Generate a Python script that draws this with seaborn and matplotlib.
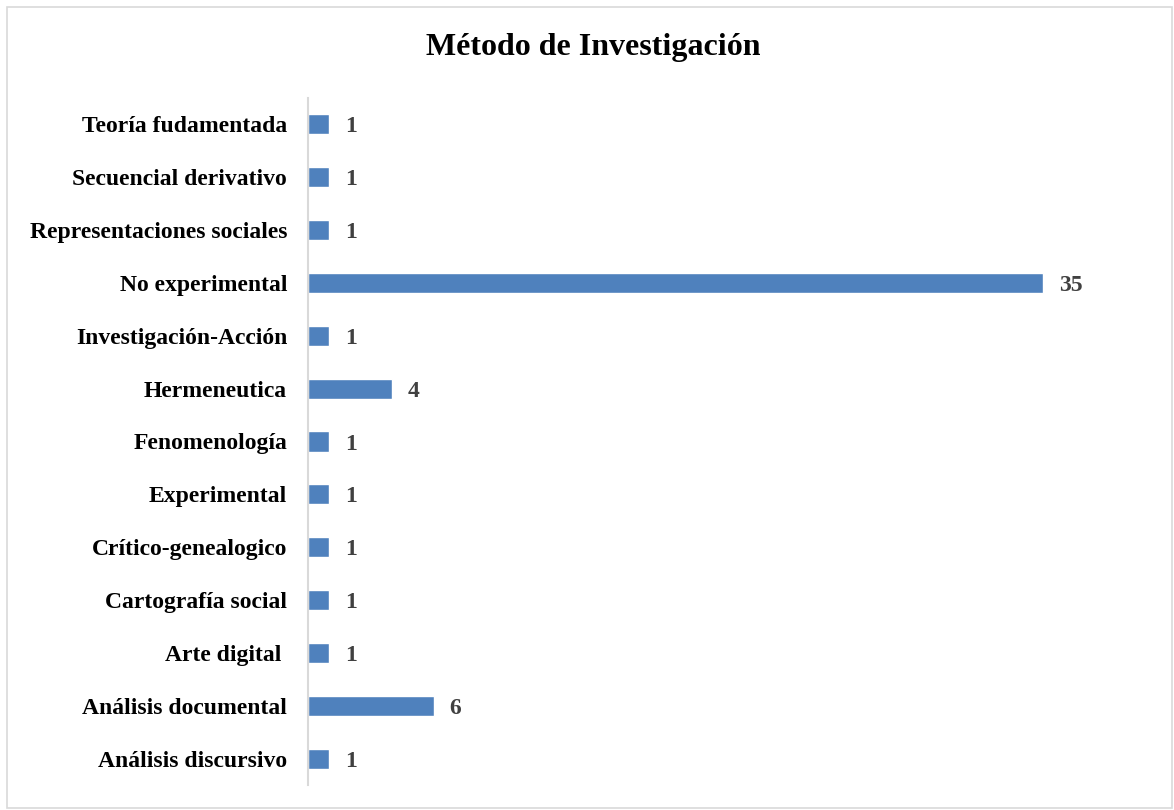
import matplotlib
matplotlib.use('Agg')
import matplotlib.pyplot as plt
import seaborn as sns
import pandas as pd
from matplotlib.patches import Rectangle

metodos = [
    'Teoría fudamentada',
    'Secuencial derivativo',
    'Representaciones sociales',
    'No experimental',
    'Investigación-Acción',
    'Hermeneutica',
    'Fenomenología',
    'Experimental',
    'Crítico-genealogico',
    'Cartografía social',
    'Arte digital ',
    'Análisis documental',
    'Análisis discursivo',
]
cantidad = [1, 1, 1, 35, 1, 4, 1, 1, 1, 1, 1, 6, 1]

df = pd.DataFrame({'metodo': metodos, 'cantidad': cantidad})

sns.set_theme(style='white')
plt.rcParams['font.family'] = ['Liberation Serif', 'DejaVu Serif']

fig = plt.figure(figsize=(11.74, 8.10), dpi=100)
ax = fig.add_axes([308 / 1174, 25 / 810, 840 / 1174, 687 / 810])

sns.barplot(data=df, x='cantidad', y='metodo', orient='h', color='#4f81bd',
            saturation=1, width=0.38, ax=ax)

for i, v in enumerate(cantidad):
    ax.text(v + 0.75, i, str(v), va='center_baseline', ha='left', fontsize=17,
            fontweight='bold', color='#404040')

ax.set_xlim(0, 40)
ax.set_ylim(len(metodos) - 0.5, -0.5)
ax.set_xlabel('')
ax.set_ylabel('')
ax.set_xticks([])
for s in ['top', 'right', 'bottom']:
    ax.spines[s].set_visible(False)
ax.spines['left'].set_color('#d9d9d9')
ax.spines['left'].set_linewidth(1.5)
ax.tick_params(axis='y', length=0, pad=15)
for lbl in ax.get_yticklabels():
    lbl.set_fontsize(17)
    lbl.set_fontweight('bold')
    lbl.set_color('black')
    lbl.set_verticalalignment('center_baseline')

fig.text(593 / 1174, 1 - 47 / 810, 'Método de Investigación', ha='center', va='center',
         fontsize=23, fontweight='bold', color='black')

fig.patches.append(Rectangle((7 / 1174, 2 / 810), 1165 / 1174, 801 / 810,
                             transform=fig.transFigure, fill=False,
                             edgecolor='#d9d9d9', linewidth=1.2))

fig.savefig('out.png', dpi=100)
